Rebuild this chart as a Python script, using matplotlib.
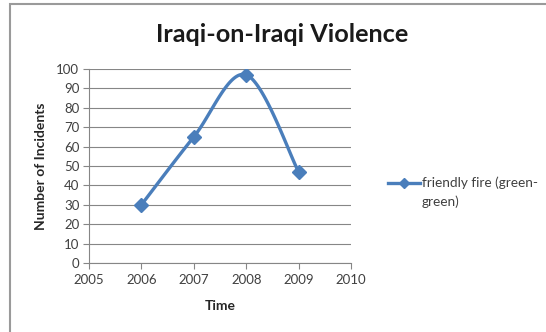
import numpy as np
import matplotlib
matplotlib.use("Agg")
import matplotlib.pyplot as plt
from matplotlib.lines import Line2D
from matplotlib.patches import Rectangle

years = [2006, 2007, 2008, 2009]
incidents = [30, 65, 97, 47]
series_label = "friendly fire (green-green)"
title = "Iraqi-on-Iraqi Violence"
xlabel = "Time"
ylabel = "Number of Incidents"
xticks = [2005, 2006, 2007, 2008, 2009, 2010]
yticks = list(range(0, 101, 10))

plt.rcParams['font.family'] = ['Lato', 'DejaVu Sans']

W, H = 546, 332
fig = plt.figure(figsize=(W / 100, H / 100), dpi=100)
ax = fig.add_axes([89 / W, 1 - 263 / H, (351 - 89) / W, (263 - 69) / H])

# Excel-style smoothed line (Catmull-Rom / Bezier)
def smooth(xs, ys, n=40):
    P = np.column_stack([xs, ys]).astype(float)
    P = np.vstack([P[0], P, P[-1]])
    out = []
    for i in range(1, len(P) - 2):
        p0, p1, p2, p3 = P[i - 1], P[i], P[i + 1], P[i + 2]
        c1 = p1 + (p2 - p0) / 6
        c2 = p2 - (p3 - p1) / 6
        t = np.linspace(0, 1, n)[:, None]
        b = ((1 - t) ** 3) * p1 + 3 * ((1 - t) ** 2) * t * c1 + 3 * (1 - t) * t ** 2 * c2 + t ** 3 * p2
        out.append(b)
    b = np.vstack(out)
    return b[:, 0], b[:, 1]

blue = "#4A7EBB"
sx, sy = smooth(years, incidents)
ax.plot(sx, sy, color=blue, lw=2.4, solid_capstyle='round', zorder=3)
ax.plot(years, incidents, linestyle='none', marker='D', ms=7, color=blue,
        markeredgecolor=blue, zorder=4)

ax.set_xlim(2005, 2010)
ax.set_ylim(0, 100)
ax.set_xticks(xticks)
ax.set_yticks(yticks)
ax.tick_params(axis='both', labelsize=9.5, colors='#868686', labelcolor='#404040',
               length=4, width=0.8, direction='out')
ax.tick_params(axis='x', pad=4)
ax.tick_params(axis='y', pad=3)
ax.yaxis.grid(True, color='#868686', lw=0.8)
ax.set_axisbelow(True)
for s in ['top', 'right']:
    ax.spines[s].set_visible(False)
for s in ['left', 'bottom']:
    ax.spines[s].set_color('#868686')
    ax.spines[s].set_linewidth(0.8)

ax.set_xlabel(xlabel, fontsize=10, fontweight='bold', color='#262626', labelpad=10)
ax.set_ylabel(ylabel, fontsize=10, fontweight='bold', color='#262626', labelpad=7)
fig.text(282 / W, 1 - 34 / H, title, fontsize=18.2, fontweight='bold',
         ha='center', va='center', color='#1a1a1a')

# legend
ly = 1 - 183 / H
fig.add_artist(Line2D([388 / W, 420 / W], [ly, ly], color=blue, lw=2.4))
fig.add_artist(Line2D([404 / W], [ly], marker='D', ms=5.5, color=blue))
fig.text(422 / W, ly, "friendly fire (green-", fontsize=9.8,
         va='center', ha='left', color='#404040')
fig.text(422 / W, 1 - 202 / H, "green)", fontsize=9.8,
         va='center', ha='left', color='#404040')

# chart frame
fig.add_artist(Rectangle((9.5 / W, -0.1), 1.2, 1 - 4.5 / H + 0.1,
                         transform=fig.transFigure, fill=False,
                         edgecolor='#9a9a9a', lw=1.5))

fig.savefig("out.png", dpi=100)
